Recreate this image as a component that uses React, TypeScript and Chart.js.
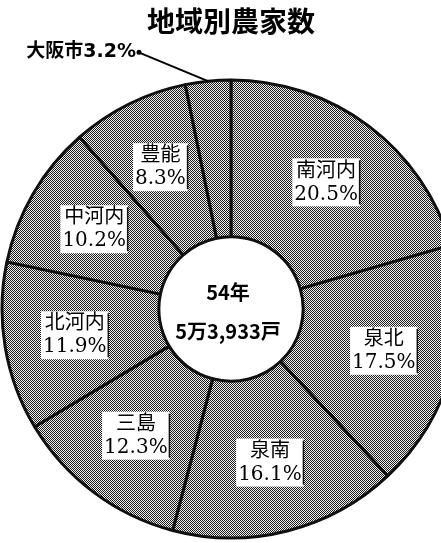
import { useEffect, useRef } from "react";
import { Chart, registerables } from "chart.js";

Chart.register(...registerables);

const regions = ["南河内", "泉北", "泉南", "三島", "北河内", "中河内", "豊能", "大阪市"];
const shares = [20.5, 17.5, 16.1, 12.3, 11.9, 10.2, 8.3, 3.2];
const titleText = "地域別農家数";
const centerLines = ["54年", "5万3,933戸"];
const outsideRegions = ["大阪市"];

function makePattern(): CanvasPattern | string {
  const c = document.createElement("canvas");
  c.width = 2;
  c.height = 2;
  const g = c.getContext("2d");
  if (!g) return "#999";
  g.fillStyle = "#f0f0f0";
  g.fillRect(0, 0, 2, 2);
  g.fillStyle = "#1e1e1e";
  g.fillRect(0, 0, 1, 1);
  g.fillRect(1, 1, 1, 1);
  return g.createPattern(c, "repeat") || "#999";
}

const labelPlugin = {
  id: "sliceLabels",
  afterDatasetsDraw(chart: any) {
    const ctx: CanvasRenderingContext2D = chart.ctx;
    const meta = chart.getDatasetMeta(0);
    let cx0 = 0;
    let cy0 = 0;
    meta.data.forEach((arc: any, i: number) => {
      const { x, y, startAngle, endAngle, innerRadius, outerRadius } = arc.getProps(
        ["x", "y", "startAngle", "endAngle", "innerRadius", "outerRadius"],
        true
      );
      cx0 = x;
      cy0 = y;
      const mid = (startAngle + endAngle) / 2;
      ctx.save();
      if (outsideRegions.includes(regions[i])) {
        const tipX = x + Math.cos(mid) * outerRadius;
        const tipY = y + Math.sin(mid) * outerRadius;
        const sx = tipX - 70;
        const sy = tipY - 29;
        ctx.strokeStyle = "#000";
        ctx.lineWidth = 2;
        ctx.beginPath();
        ctx.moveTo(sx, sy);
        ctx.lineTo(tipX, tipY);
        ctx.stroke();
        ctx.fillStyle = "#000";
        ctx.beginPath();
        ctx.arc(sx + 1, sy, 2.5, 0, Math.PI * 2);
        ctx.fill();
        ctx.font = "bold 19px 'DejaVu Sans', 'Noto Sans CJK JP'";
        ctx.textAlign = "right";
        ctx.textBaseline = "middle";
        ctx.fillText(regions[i] + shares[i].toFixed(1) + "%", sx - 2, sy);
        ctx.restore();
        return;
      }
      const r = innerRadius + (outerRadius - innerRadius) * 0.55;
      const lx = x + Math.cos(mid) * r;
      const ly = y + Math.sin(mid) * r;
      const lines = [regions[i], shares[i].toFixed(1) + "%"];
      ctx.font = "20px 'DejaVu Serif', 'Noto Sans CJK JP'";
      const w = Math.max(...lines.map((s) => ctx.measureText(s).width)) + 4;
      const h = 48;
      ctx.fillStyle = "#fff";
      ctx.fillRect(lx - w / 2, ly - h / 2, w, h);
      ctx.fillStyle = "#111";
      ctx.fillRect(lx + w / 2 - 1, ly - h / 2 + 2, 1.5, h - 4);
      ctx.fillStyle = "#000";
      ctx.textAlign = "center";
      ctx.textBaseline = "middle";
      ctx.fillText(lines[0], lx, ly - 11);
      ctx.fillText(lines[1], lx, ly + 12);
      ctx.restore();
    });
    ctx.save();
    ctx.fillStyle = "#000";
    ctx.textAlign = "center";
    ctx.textBaseline = "middle";
    ctx.font = "bold 20px 'Noto Sans CJK JP'";
    ctx.fillText(centerLines[0], cx0 - 3, cy0 - 17);
    ctx.fillText(centerLines[1], cx0 - 3, cy0 + 22);
    ctx.restore();
  },
};

export default function App() {
  const ref = useRef<HTMLCanvasElement | null>(null);

  useEffect(() => {
    if (!ref.current) return;
    const pattern = makePattern();
    const chart = new Chart(ref.current, {
      type: "doughnut",
      data: {
        labels: regions,
        datasets: [
          {
            data: shares,
            backgroundColor: shares.map(() => pattern as any),
            borderColor: "#111",
            borderWidth: 3,
          },
        ],
      },
      options: {
        responsive: false,
        animation: false,
        radius: 229,
        cutout: "31.5%",
        layout: { padding: { top: 0, bottom: 5, left: 0, right: 0 } },
        plugins: {
          legend: { display: false },
          tooltip: { enabled: false },
          title: {
            display: true,
            text: titleText,
            color: "#000",
            font: { family: "'Noto Sans CJK JP'", size: 28, weight: "bold" },
            padding: { top: 5, bottom: 41.4 },
          },
        },
      } as any,
      plugins: [labelPlugin],
    });
    return () => chart.destroy();
  }, []);

  return (
    <div
      style={{
        position: "fixed",
        left: 0,
        top: 0,
        width: 441,
        height: 543,
        overflow: "hidden",
        background: "#fff",
      }}
    >
      <canvas ref={ref} width={462} height={543} style={{ width: 462, height: 543, display: "block" }} />
    </div>
  );
}
